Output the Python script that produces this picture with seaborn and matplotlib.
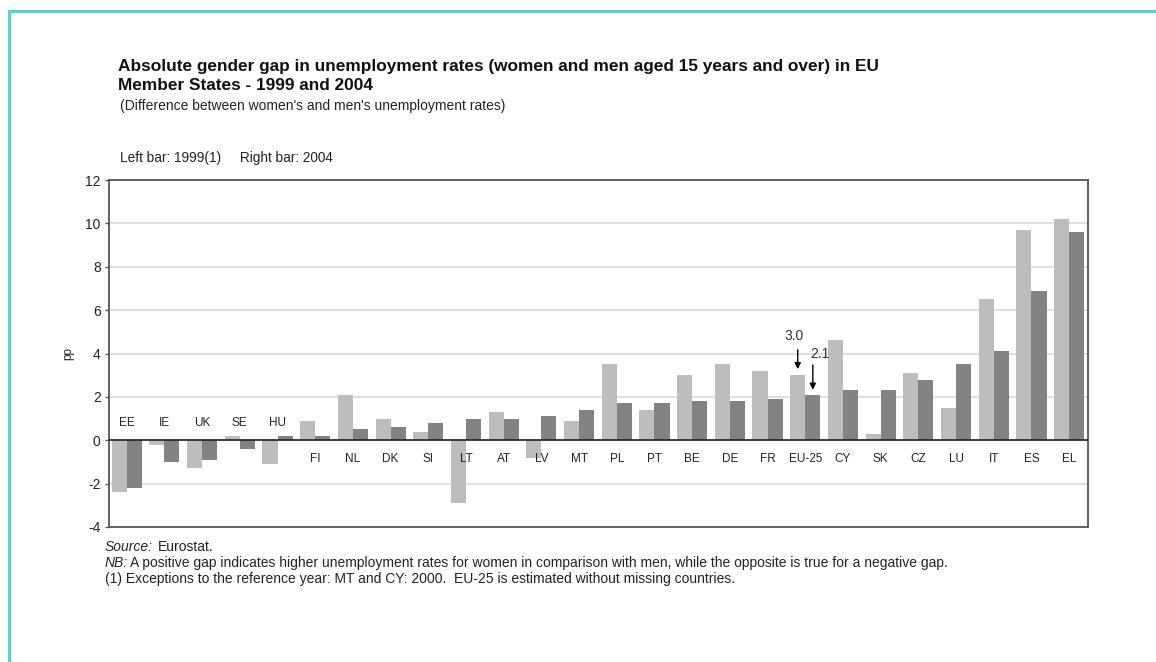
import numpy as np
import pandas as pd
import matplotlib
matplotlib.use("Agg")
import matplotlib.pyplot as plt
import seaborn as sns
from matplotlib.lines import Line2D

# --- data ---
countries = ["EE", "IE", "UK", "SE", "HU", "FI", "NL", "DK", "SI", "LT", "AT", "LV", "MT",
             "PL", "PT", "BE", "DE", "FR", "EU-25", "CY", "SK", "CZ", "LU", "IT", "ES", "EL"]
gap_1999 = [-2.4, -0.2, -1.3, 0.2, -1.1, 0.9, 2.1, 1.0, 0.4, -2.9, 1.3, -0.8, 0.9,
            3.5, 1.4, 3.0, 3.5, 3.2, 3.0, 4.6, 0.3, 3.1, 1.5, 6.5, 9.7, 10.2]
gap_2004 = [-2.2, -1.0, -0.9, -0.4, 0.2, 0.2, 0.5, 0.6, 0.8, 1.0, 1.0, 1.1, 1.4,
            1.7, 1.7, 1.8, 1.8, 1.9, 2.1, 2.3, 2.3, 2.8, 3.5, 4.1, 6.9, 9.6]
years = ["1999", "2004"]
yticks = [-4, -2, 0, 2, 4, 6, 8, 10, 12]

df = pd.DataFrame({
    "country": countries * 2,
    "year": [years[0]] * len(countries) + [years[1]] * len(countries),
    "gap": gap_1999 + gap_2004,
})

W, H = 1156, 662
fig = plt.figure(figsize=(W / 100, H / 100), dpi=100)
plt.rcParams['font.family'] = ['Liberation Sans', 'DejaVu Sans']

def px(x, y):
    return x / W, 1 - y / H

ax = fig.add_axes([109 / W, 1 - 527 / H, (1088 - 109) / W, (527 - 180) / H])

sns.barplot(data=df, x="country", y="gap", hue="year", order=countries,
            palette={"1999": "#bdbdbd", "2004": "#828282"}, saturation=1,
            width=0.8, legend=False, ax=ax, linewidth=0, zorder=3)

ax.set_xlim(-0.47, 25.5)
ax.set_ylim(-4, 12)
ax.set_yticks(yticks)
ax.set_yticklabels([str(t) for t in yticks], fontsize=10, color="#222222")
ax.set_xticks([])
ax.set_xlabel("")
ax.set_ylabel("pp", fontsize=8.5, color="#222222", labelpad=8)
ax.grid(axis="y", color="#dcdcdc", linewidth=1.3, zorder=0)
ax.set_axisbelow(True)
ax.axhline(0, color="#222222", linewidth=1.2, zorder=4)
for s in ax.spines.values():
    s.set_color("#555555")
    s.set_linewidth(1.3)
ax.tick_params(axis="y", length=3, width=1, color="#555555", pad=3)

# country labels above or below the zero line
for i, c in enumerate(countries):
    yl = 0.8 if i < 5 else -0.85
    ax.text(i, yl, c, ha="center", va="center", fontsize=8.5, color="#222222", zorder=5)

# EU-25 call-outs
eu = countries.index("EU-25")
ax.annotate("", xy=(eu - 0.2, gap_1999[eu] + 0.15), xytext=(eu - 0.2, 4.3),
            arrowprops=dict(arrowstyle="-|>", color="black", lw=1, mutation_scale=9), zorder=6)
ax.text(eu - 0.3, 4.8, f"{gap_1999[eu]:.1f}", ha="center", va="center", fontsize=10, color="#333333")
ax.annotate("", xy=(eu + 0.2, gap_2004[eu] + 0.1), xytext=(eu + 0.2, 3.6),
            arrowprops=dict(arrowstyle="-|>", color="black", lw=1, mutation_scale=9), zorder=6)
ax.text(eu + 0.4, 4.0, f"{gap_2004[eu]:.1f}", ha="center", va="center", fontsize=10, color="#333333")

# titles and notes
fig.text(*px(118, 66), "Absolute gender gap in unemployment rates (women and men aged 15 years and over) in EU",
         fontsize=12.4, fontweight="bold", va="center", color="#111111")
fig.text(*px(118, 85), "Member States - 1999 and 2004",
         fontsize=12.4, fontweight="bold", va="center", color="#111111")
fig.text(*px(120, 106), "(Difference between women's and men's unemployment rates)",
         fontsize=10, va="center", color="#222222")
fig.text(*px(120, 158), "Left bar: 1999(1)     Right bar: 2004",
         fontsize=9.8, va="center", color="#222222")
fig.text(*px(105, 547), "Source:", fontsize=10, style="italic", va="center", color="#222222")
fig.text(*px(158, 547), "Eurostat.", fontsize=10, va="center", color="#222222")
fig.text(*px(105, 563), "NB:", fontsize=10, style="italic", va="center", color="#222222")
fig.text(*px(130, 563), "A positive gap indicates higher unemployment rates for women in comparison with men, "
         "while the opposite is true for a negative gap.", fontsize=10, va="center", color="#222222")
fig.text(*px(105, 579), "(1) Exceptions to the reference year: MT and CY: 2000.  EU-25 is estimated without missing countries.",
         fontsize=10, va="center", color="#222222")

# teal frame around the page
fig.add_artist(Line2D([9 / W, 1.0], [1 - 11 / H] * 2, color="#4fd3d3", lw=2.2, transform=fig.transFigure))
fig.add_artist(Line2D([9 / W] * 2, [0, 1 - 11 / H], color="#4fd3d3", lw=2.2, transform=fig.transFigure))

fig.savefig("out.png", dpi=100)
